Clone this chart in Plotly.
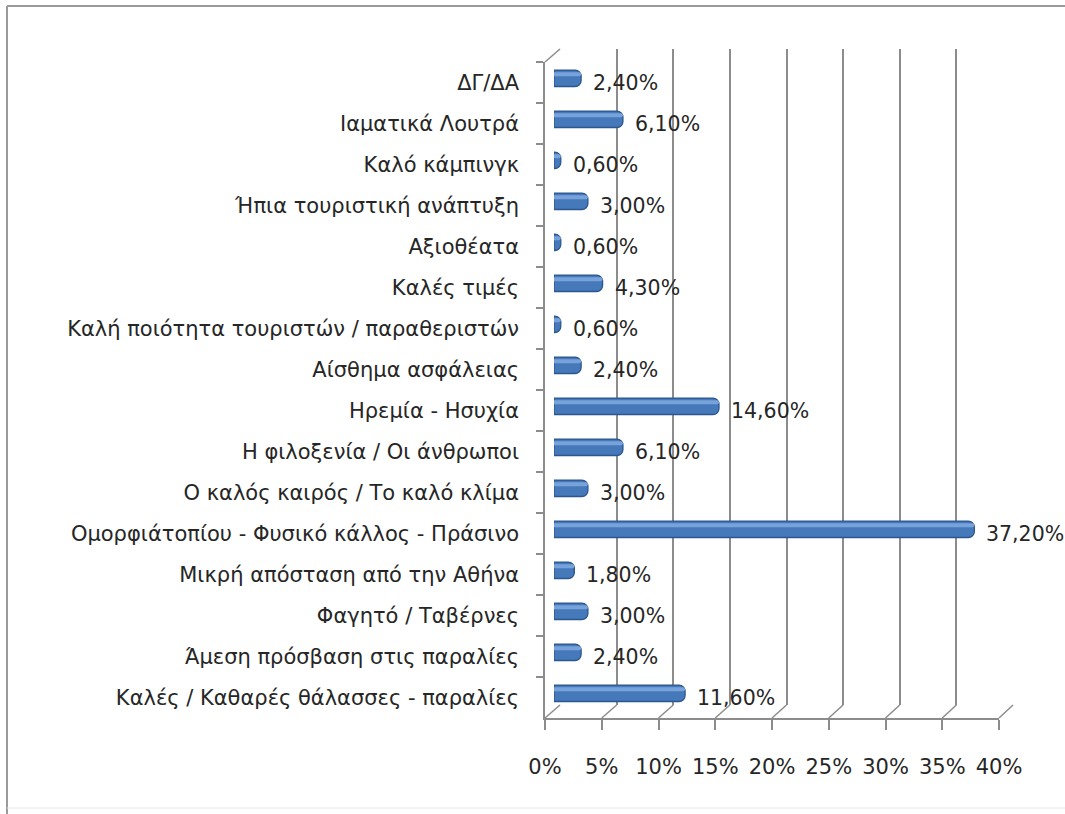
import plotly.graph_objects as go

# Survey answers, listed top to bottom as they appear on the chart
categories = [
    "ΔΓ/ΔΑ",
    "Ιαματικά Λουτρά",
    "Καλό κάμπινγκ",
    "Ήπια τουριστική ανάπτυξη",
    "Αξιοθέατα",
    "Καλές τιμές",
    "Καλή ποιότητα τουριστών / παραθεριστών",
    "Αίσθημα ασφάλειας",
    "Ηρεμία - Ησυχία",
    "Η φιλοξενία / Οι άνθρωποι",
    "Ο καλός καιρός / Το καλό κλίμα",
    "Ομορφιάτοπίου - Φυσικό κάλλος - Πράσινο",
    "Μικρή απόσταση από την Αθήνα",
    "Φαγητό / Ταβέρνες",
    "Άμεση πρόσβαση στις παραλίες",
    "Καλές / Καθαρές θάλασσες - παραλίες",
]
percentages = [2.40, 6.10, 0.60, 3.00, 0.60, 4.30, 0.60, 2.40,
               14.60, 6.10, 3.00, 37.20, 1.80, 3.00, 2.40, 11.60]
tick_values = [0, 5, 10, 15, 20, 25, 30, 35, 40]
tick_labels = ["0%", "5%", "10%", "15%", "20%", "25%", "30%", "35%", "40%"]

W, H = 1065, 814
FONT = "DejaVu Sans"
CAT_SIZE = 21
TICK_SIZE = 21
VALUE_SIZE = 20.5
TEXT = "#262626"
FRAME = "#8c8c8c"

def px(x):
    return x / W

def py(y):
    return 1 - y / H

# pseudo-3D geometry: front plane, back wall (depth offset) and bar plane in between
FRONT_L, FRONT_R, FRONT_T, FRONT_B = 545, 999, 62, 718
DX, DY = 15, -13
BACK_L, BACK_R, BACK_T, BACK_B = FRONT_L + DX, FRONT_R + DX - 1, FRONT_T + DY, FRONT_B + DY
BAR_L, BAR_R, BAR_T, BAR_B = 554, 1006, 57.8, 713.8
XMAX = 40
n = len(categories)
yrange = [n - 0.5, -0.5]

labels = [f"{v:.2f}".replace(".", ",") + "%" for v in percentages]

fig = go.Figure()

# invisible carrier trace for the front axes (category labels, % ticks)
fig.add_trace(go.Scatter(x=percentages, y=categories, mode="markers",
                         marker=dict(opacity=0), hoverinfo="skip",
                         showlegend=False, xaxis="x", yaxis="y"))
# invisible carrier trace for the back wall gridlines
fig.add_trace(go.Scatter(x=percentages, y=categories, mode="markers",
                         marker=dict(opacity=0), hoverinfo="skip",
                         showlegend=False, xaxis="x2", yaxis="y2"))
# cylinder bars: body + highlight stripe
fig.add_trace(go.Bar(x=percentages, y=categories, orientation="h",
                     width=0.4,
                     marker=dict(color="#4679ba",
                                 line=dict(color="#2b568f", width=1.3),
                                 cornerradius=6),
                     showlegend=False, hoverinfo="skip",
                     xaxis="x3", yaxis="y3"))
fig.add_trace(go.Bar(x=percentages, y=categories, orientation="h",
                     width=0.1, offset=-0.15,
                     marker=dict(color="#78a2da", line=dict(width=0),
                                 cornerradius=3),
                     showlegend=False, hoverinfo="skip",
                     xaxis="x3", yaxis="y3"))

# value labels beside each bar
for cat, val, lab in zip(categories, percentages, labels):
    fig.add_annotation(x=val, y=cat, xref="x3", yref="y3", text=lab,
                       showarrow=False, xanchor="left", yanchor="middle",
                       xshift=10, yshift=-5,
                       font=dict(family=FONT, size=VALUE_SIZE, color=TEXT))

shapes = []
# floor depth edges from each front tick back to its gridline
for v in tick_values:
    fx = FRONT_L + v * (FRONT_R - FRONT_L) / XMAX
    bx = BACK_L + v * (BACK_R - BACK_L) / XMAX
    shapes.append(dict(type="line", xref="paper", yref="paper",
                       x0=px(fx), y0=py(FRONT_B), x1=px(bx), y1=py(BACK_B),
                       line=dict(color=FRAME, width=1.5)))
# top edge of the left wall
shapes.append(dict(type="line", xref="paper", yref="paper",
                   x0=px(FRONT_L), y0=py(FRONT_T), x1=px(BACK_L), y1=py(BACK_T),
                   line=dict(color=FRAME, width=1.5)))
# outer chart border
shapes.append(dict(type="line", xref="paper", yref="paper",
                   x0=px(7), y0=py(6), x1=1, y1=py(6),
                   line=dict(color="#9a9a9a", width=2)))
shapes.append(dict(type="line", xref="paper", yref="paper",
                   x0=px(7), y0=py(6), x1=px(7), y1=0,
                   line=dict(color="#9a9a9a", width=2)))
shapes.append(dict(type="line", xref="paper", yref="paper",
                   x0=px(7), y0=py(808), x1=1, y1=py(808),
                   line=dict(color="#e6e6e6", width=1)))

fig.update_layout(
    width=W, height=H, autosize=False,
    margin=dict(l=0, r=0, t=0, b=0, pad=0, autoexpand=False),
    paper_bgcolor="white", plot_bgcolor="rgba(0,0,0,0)",
    barmode="overlay",
    showlegend=False,
    font=dict(family=FONT, size=CAT_SIZE, color=TEXT),
    shapes=shapes,
    xaxis=dict(domain=[px(FRONT_L), px(FRONT_R)], range=[0, XMAX], anchor="y",
               tickvals=tick_values, ticktext=tick_labels,
               showline=True, linecolor=FRAME, linewidth=1.5,
               ticks="outside", ticklen=10, tickcolor=FRAME, tickwidth=1.5,
               ticklabelstandoff=19, automargin=False,
               showgrid=False, zeroline=False,
               tickfont=dict(family=FONT, size=TICK_SIZE, color=TEXT)),
    yaxis=dict(domain=[py(FRONT_B), py(FRONT_T)], anchor="x",
               type="category", categoryorder="array", categoryarray=categories,
               range=yrange, automargin=False,
               showline=True, linecolor=FRAME, linewidth=1.5,
               ticks="outside", ticklen=7, tickcolor=FRAME, tickwidth=1.5,
               tickson="boundaries", ticklabelstandoff=20,
               showgrid=False, zeroline=False,
               tickfont=dict(family=FONT, size=CAT_SIZE, color=TEXT)),
    xaxis2=dict(domain=[px(BACK_L), px(BACK_R)], range=[0, XMAX], anchor="y2",
                tickvals=tick_values, showticklabels=False, ticks="",
                showgrid=True, gridcolor=FRAME, gridwidth=1.8,
                showline=False, zeroline=False, automargin=False),
    yaxis2=dict(domain=[py(BACK_B), py(BACK_T)], anchor="x2",
                type="category", categoryorder="array", categoryarray=categories,
                range=yrange, visible=False, automargin=False),
    xaxis3=dict(domain=[px(BAR_L), px(BAR_R)], range=[0, XMAX], anchor="y3",
                visible=False, automargin=False),
    yaxis3=dict(domain=[py(BAR_B), py(BAR_T)], anchor="x3",
                type="category", categoryorder="array", categoryarray=categories,
                range=yrange, visible=False, automargin=False),
)

fig.write_html("out.html")
